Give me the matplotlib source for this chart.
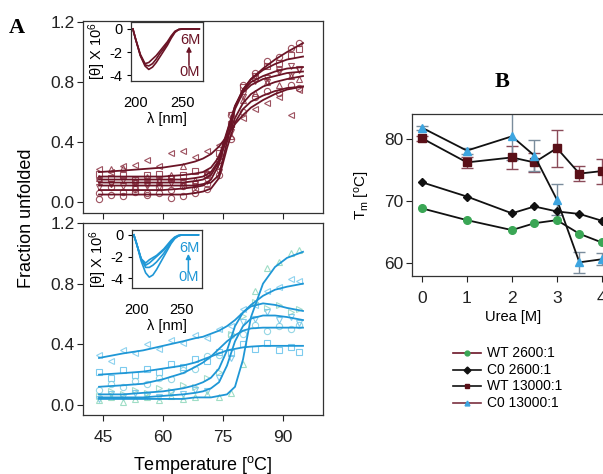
import matplotlib
matplotlib.use("Agg")
import matplotlib.pyplot as plt
from matplotlib.lines import Line2D

plt.rcParams['font.family'] = ['Liberation Sans', 'DejaVu Sans']
plt.rcParams['mathtext.default'] = 'regular'

# ---- panel A: thermal unfolding, fitted curves and measured points ----
T_FIT = [44, 50, 55, 60, 65, 68, 70, 72, 74, 76, 78, 80, 82, 85, 88, 91, 95]
T_MARK = [44, 47, 50, 53, 56, 59, 62, 65, 68, 71, 74, 77, 80, 83, 86, 89, 92, 94]

wt_fits = [
    [0.20, 0.21, 0.22, 0.23, 0.25, 0.27, 0.29, 0.32, 0.37, 0.44, 0.52, 0.58, 0.63, 0.68, 0.72, 0.75, 0.77],
    [0.08, 0.08, 0.08, 0.08, 0.09, 0.10, 0.11, 0.15, 0.25, 0.45, 0.63, 0.75, 0.82, 0.89, 0.95, 1.00, 1.06],
    [0.17, 0.17, 0.17, 0.17, 0.18, 0.19, 0.20, 0.23, 0.30, 0.47, 0.64, 0.75, 0.82, 0.88, 0.92, 0.95, 0.97],
    [0.13, 0.13, 0.13, 0.13, 0.13, 0.14, 0.15, 0.18, 0.27, 0.46, 0.64, 0.74, 0.80, 0.84, 0.87, 0.89, 0.90],
    [0.11, 0.11, 0.11, 0.11, 0.11, 0.11, 0.12, 0.13, 0.18, 0.40, 0.62, 0.73, 0.78, 0.82, 0.84, 0.86, 0.87],
    [0.15, 0.15, 0.15, 0.15, 0.15, 0.16, 0.17, 0.20, 0.28, 0.42, 0.56, 0.66, 0.72, 0.77, 0.80, 0.82, 0.84],
    [0.05, 0.05, 0.05, 0.05, 0.05, 0.06, 0.07, 0.09, 0.16, 0.36, 0.53, 0.62, 0.67, 0.71, 0.74, 0.76, 0.77],
]
wt_points = [
    [0.22, 0.20, 0.24, 0.25, 0.28, 0.24, 0.33, 0.34, 0.30, 0.34, 0.38, 0.52, 0.56, 0.62, 0.66, 0.70, 0.58, 0.75],
    [0.06, 0.10, 0.07, 0.09, 0.06, 0.10, 0.08, 0.11, 0.09, 0.12, 0.28, 0.58, 0.78, 0.86, 0.94, 0.97, 1.03, 1.06],
    [0.19, 0.16, 0.18, 0.15, 0.18, 0.19, 0.16, 0.18, 0.21, 0.19, 0.33, 0.52, 0.77, 0.83, 0.91, 0.93, 0.98, 1.02],
    [0.14, 0.12, 0.15, 0.13, 0.11, 0.14, 0.16, 0.13, 0.12, 0.18, 0.24, 0.58, 0.72, 0.84, 0.83, 0.88, 0.91, 0.89],
    [0.10, 0.12, 0.11, 0.09, 0.12, 0.10, 0.13, 0.11, 0.10, 0.14, 0.20, 0.47, 0.70, 0.81, 0.80, 0.87, 0.85, 0.88],
    [0.16, 0.22, 0.23, 0.14, 0.17, 0.15, 0.18, 0.24, 0.15, 0.20, 0.31, 0.44, 0.68, 0.73, 0.80, 0.78, 0.84, 0.82],
    [0.02, 0.05, 0.04, 0.07, 0.05, 0.06, 0.03, 0.04, 0.06, 0.09, 0.18, 0.42, 0.60, 0.70, 0.74, 0.73, 0.78, 0.76],
]
wt_markers = ['<', 'o', 's', 'v', 'v', '^', 'o']

c0_fits = [
    [0.31, 0.34, 0.36, 0.39, 0.42, 0.44, 0.45, 0.47, 0.49, 0.52, 0.56, 0.61, 0.66, 0.72, 0.76, 0.78, 0.80],
    [0.20, 0.21, 0.22, 0.24, 0.26, 0.28, 0.30, 0.32, 0.34, 0.36, 0.37, 0.38, 0.385, 0.39, 0.39, 0.39, 0.39],
    [0.12, 0.13, 0.14, 0.17, 0.21, 0.25, 0.28, 0.32, 0.37, 0.42, 0.46, 0.49, 0.505, 0.51, 0.51, 0.51, 0.51],
    [0.07, 0.07, 0.08, 0.09, 0.11, 0.13, 0.15, 0.18, 0.24, 0.36, 0.52, 0.61, 0.65, 0.67, 0.66, 0.64, 0.62],
    [0.05, 0.05, 0.05, 0.06, 0.07, 0.08, 0.09, 0.11, 0.15, 0.26, 0.42, 0.52, 0.57, 0.59, 0.59, 0.58, 0.56],
    [0.04, 0.04, 0.04, 0.04, 0.04, 0.05, 0.05, 0.05, 0.06, 0.07, 0.12, 0.30, 0.58, 0.80, 0.91, 0.97, 1.01],
]
c0_points = [
    [0.33, 0.29, 0.36, 0.34, 0.40, 0.37, 0.43, 0.41, 0.46, 0.44, 0.50, 0.52, 0.63, 0.66, 0.75, 0.78, 0.83, 0.82],
    [0.22, 0.18, 0.23, 0.20, 0.24, 0.22, 0.27, 0.25, 0.30, 0.29, 0.35, 0.34, 0.40, 0.37, 0.41, 0.36, 0.38, 0.35],
    [0.10, 0.14, 0.12, 0.16, 0.14, 0.18, 0.17, 0.23, 0.24, 0.32, 0.33, 0.46, 0.47, 0.53, 0.49, 0.52, 0.50, 0.53],
    [0.06, 0.09, 0.07, 0.10, 0.08, 0.11, 0.09, 0.13, 0.12, 0.18, 0.22, 0.47, 0.59, 0.68, 0.64, 0.66, 0.61, 0.63],
    [0.04, 0.07, 0.05, 0.08, 0.06, 0.05, 0.08, 0.07, 0.10, 0.09, 0.18, 0.31, 0.55, 0.57, 0.61, 0.56, 0.58, 0.54],
    [0.03, 0.05, 0.02, 0.04, 0.05, 0.03, 0.06, 0.04, 0.05, 0.07, 0.05, 0.08, 0.27, 0.75, 0.90, 0.94, 1.00, 1.02],
]
c0_markers = ['<', 's', 'o', '>', 'v', '^']
c0_point_colors = ['#7ccbec', '#66c2ec', '#84d0e0', '#98d8c4', '#70c4e8', '#8ed8bc']

# ---- insets: CD spectra, 0 M to 6 M urea ----
WL = [197, 200, 205, 210, 214, 218, 222, 226, 230, 234, 238, 242, 246, 250, 258, 268]
wt_cd = [
    [0.0, -0.9, -2.3, -3.2, -3.5, -3.3, -2.9, -2.4, -1.9, -1.4, -0.8, -0.3, -0.05, 0.0, 0.0, 0.0],
    [0.0, -0.9, -2.3, -3.1, -3.2, -3.0, -2.6, -2.1, -1.7, -1.2, -0.7, -0.25, -0.05, 0.0, 0.0, 0.0],
    [0.0, -0.9, -2.2, -3.0, -2.9, -2.6, -2.3, -1.9, -1.5, -1.1, -0.6, -0.2, -0.05, 0.0, 0.0, 0.0],
]
c0_cd = [
    [0.0, -0.8, -2.4, -3.5, -3.9, -3.7, -3.2, -2.6, -2.0, -1.4, -0.8, -0.35, -0.1, 0.0, 0.0, 0.0],
    [0.0, -0.8, -2.2, -3.0, -3.0, -2.8, -2.5, -2.1, -1.7, -1.2, -0.7, -0.3, -0.1, 0.0, 0.0, 0.0],
    [0.0, -0.8, -2.2, -2.8, -2.6, -2.3, -2.0, -1.7, -1.4, -1.0, -0.6, -0.25, -0.05, 0.0, 0.0, 0.0],
    [0.0, -0.8, -2.2, -2.6, -2.3, -2.1, -1.9, -1.6, -1.3, -0.9, -0.5, -0.2, -0.05, 0.0, 0.0, 0.0],
]

# ---- panel B: Tm versus urea ----
urea = [0, 1, 2, 2.5, 3, 3.5, 4]
tm_wt_2600 = [68.8, 66.9, 65.3, 66.4, 66.9, 64.7, 63.3]
tm_c0_2600 = [73.0, 70.7, 68.0, 69.1, 68.3, 67.9, 66.8]
tm_wt_13000 = [80.1, 76.2, 77.0, 76.2, 78.5, 74.4, 74.8]
tm_c0_13000 = [81.8, 78.1, 80.4, 77.3, 70.2, 60.1, 60.6]
err_wt_13000 = [0.4, 0.9, 1.8, 1.5, 3.0, 1.2, 2.0]
err_c0_13000 = [0.3, 0.5, 3.8, 2.5, 2.5, 1.7, 1.0]
legend_labels = ['WT 2600:1', 'C0 2600:1', 'WT 13000:1', 'C0 13000:1']

WT_LINE = '#6b1426'
WT_PT = '#8c3444'
C0_LINE = '#1f97d6'

W, H = 603, 474
fig = plt.figure(figsize=(W / 100, H / 100), dpi=100)


def box(l, t, r, b):
    return [l / W, 1 - b / H, (r - l) / W, (b - t) / H]


def style_main(ax, ylim):
    ax.set_xlim(40, 100)
    ax.set_ylim(*ylim)
    ax.set_xticks([45, 60, 75, 90])
    ax.set_yticks([0.0, 0.4, 0.8, 1.2])
    ax.set_yticklabels(['0.0', '0.4', '0.8', '1.2'])
    ax.tick_params(direction='out', length=4, width=0.8, labelsize=12.5, pad=2, colors='#222222')
    ax.tick_params(axis='x', pad=7)
    for s in ax.spines.values():
        s.set_color('#333333')
        s.set_linewidth(0.9)


def draw_panel(ax, fits, points, markers, pcolors, lcolor):
    for fit, pts, mk, pc in zip(fits, points, markers, pcolors):
        ax.plot(T_MARK, pts, linestyle='none', marker=mk, markersize=4.5,
                markerfacecolor='none', markeredgecolor=pc, markeredgewidth=0.8,
                alpha=0.85, zorder=2)
        ax.plot(T_FIT, fit, color=lcolor, lw=1.3, solid_joinstyle='round', zorder=3)


ax_top = fig.add_axes(box(83, 21, 323, 213))
style_main(ax_top, (-0.073, 1.207))
ax_top.tick_params(axis='x', labelbottom=False)
draw_panel(ax_top, wt_fits, wt_points, wt_markers, [WT_PT] * len(wt_fits), WT_LINE)

ax_bot = fig.add_axes(box(83, 223, 323, 415))
style_main(ax_bot, (-0.066, 1.193))
draw_panel(ax_bot, c0_fits, c0_points, c0_markers, c0_point_colors, C0_LINE)


def draw_inset(rect, spectra, color, ylim, lab_y):
    ins = fig.add_axes(rect)
    for s in spectra:
        ins.plot(WL, s, color=color, lw=1.2)
    ins.set_xlim(195, 272)
    ins.set_ylim(*ylim)
    ins.set_xticks([200, 250])
    ins.set_yticks([0, -2, -4])
    ins.set_yticklabels(['0', '-2', '-4'])
    ins.tick_params(axis='y', direction='out', length=3, pad=3, labelsize=10.5)
    ins.tick_params(axis='x', length=0, pad=11, labelsize=10.5)
    ins.set_xlabel('λ [nm]', fontsize=10.5, labelpad=1)
    ins.set_ylabel('[θ] X 10$^6$', fontsize=10.5, labelpad=1)
    for s in ins.spines.values():
        s.set_color('#333333')
        s.set_linewidth(0.9)
    ins.text(269, lab_y[0], '6M', color=color, fontsize=10.5, ha='right', va='center')
    ins.text(269, lab_y[1], '0M', color=color, fontsize=10.5, ha='right', va='center')
    ins.annotate('', xy=(257, lab_y[0] - 0.55), xytext=(257, lab_y[1] + 0.55),
                 arrowprops=dict(arrowstyle='-|>', color=color, lw=1.1,
                                 mutation_scale=7, shrinkA=0, shrinkB=0))
    return ins


draw_inset(box(131, 22, 203, 81), wt_cd, WT_LINE, (-4.5, 0.6), (-0.96, -3.7))
draw_inset(box(132, 230, 202, 288), c0_cd, C0_LINE, (-4.9, 0.45), (-1.2, -3.9))

fig.text(27 / W, 1 - 218 / H, 'Fraction unfolded', rotation=90, ha='center', va='center',
         fontsize=13)
fig.text(203 / W, 1 - 465 / H, 'Temperature [$^o$C]', ha='center', va='center', fontsize=13)
fig.text(17 / W, 1 - 28 / H, 'A', family='Liberation Serif', fontweight='bold',
         fontsize=16, ha='center', va='center')
fig.text(502 / W, 1 - 82 / H, 'B', family='Liberation Serif', fontweight='bold',
         fontsize=16, ha='center', va='center')

# panel B runs past the right edge of the canvas
ax_b = fig.add_axes(box(412, 114, 412 + 6.42 * 45, 276))
ax_b.set_xlim(-0.22, 6.2)
ax_b.set_ylim(57.9, 84.0)
ax_b.errorbar(urea, tm_wt_13000, yerr=err_wt_13000, fmt='none', ecolor='#8a4a58',
              elinewidth=1.0, capsize=4, zorder=2)
ax_b.errorbar(urea, tm_c0_13000, yerr=err_c0_13000, fmt='none', ecolor='#7a8c9c',
              elinewidth=1.0, capsize=4, zorder=2)
series = [
    (tm_wt_2600, 'o', '#3aa655'),
    (tm_c0_2600, 'D', '#111111'),
    (tm_wt_13000, 's', '#5a1018'),
    (tm_c0_13000, '^', '#3da5e0'),
]
for vals, mk, mc in series:
    ax_b.plot(urea, vals, color='#111111', lw=1.3, marker=mk, markersize=5.5 if mk != 'D' else 4.5,
              markerfacecolor=mc, markeredgecolor=mc, zorder=3)
ax_b.set_xticks([0, 1, 2, 3, 4, 5, 6])
ax_b.set_yticks([60, 70, 80])
ax_b.tick_params(direction='out', length=4, width=0.8, labelsize=12.5, colors='#222222', pad=2)
ax_b.tick_params(axis='x', pad=7)
for s in ax_b.spines.values():
    s.set_color('#333333')
    s.set_linewidth(0.9)
fig.text(362 / W, 1 - 195 / H, 'T$_m$ [$^o$C]', rotation=90, ha='center', va='center',
         fontsize=11)
fig.text(513 / W, 1 - 317 / H, 'Urea [M]', ha='center', va='center', fontsize=10.5)

# legend drawn by hand below panel B
leg_line = [WT_LINE, '#111111', '#111111', '#7a3040']
leg_mark = [('o', '#3aa655'), ('D', '#111111'), ('s', '#5a1018'), ('^', '#3da5e0')]
for i, lab in enumerate(legend_labels):
    y = 1 - (353 + i * 16.7) / H
    fig.add_artist(Line2D([453 / W, 481 / W], [y, y], color=leg_line[i], lw=1.2))
    fig.add_artist(Line2D([467 / W], [y], marker=leg_mark[i][0], markersize=3.5,
                          color=leg_mark[i][1], linestyle='none'))
    fig.text(487 / W, y, lab, ha='left', va='center', fontsize=10)

fig.savefig('out.png', dpi=100)
